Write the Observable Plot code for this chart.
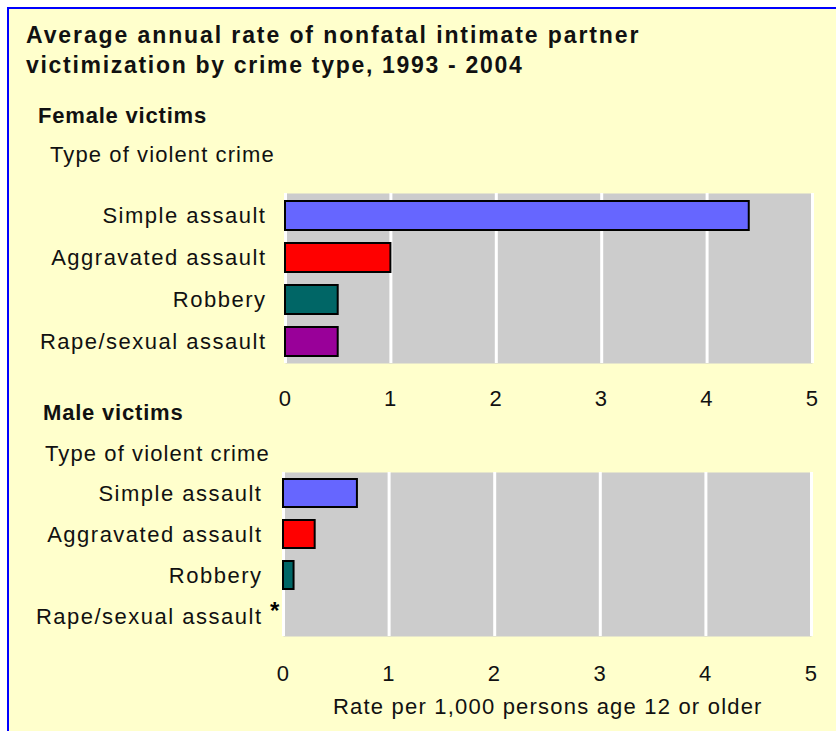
<!DOCTYPE html>
<html><head><meta charset="utf-8">
<script src="https://cdn.jsdelivr.net/npm/d3@7"></script>
<script src="https://cdn.jsdelivr.net/npm/@observablehq/plot@0.6"></script>
<style>
html,body{margin:0;padding:0;background:#fff;}
#page{position:relative;width:836px;height:731px;overflow:hidden;background:#fff;font-family:"Liberation Sans",Arial,sans-serif;}
#box{position:absolute;left:7px;top:7px;width:860px;height:760px;background:#FFFFCC;border-left:2px solid #0000FF;border-top:2px solid #0000FF;}
.t{position:absolute;white-space:nowrap;color:#111;}
#page svg{position:absolute;left:0;top:0;}
</style></head><body><div id="page"><div id="box"></div></div>
<script>
const titleLines = ["Average annual rate of nonfatal intimate partner", "victimization by crime type, 1993 - 2004"];
const panelTitles = ["Female victims", "Male victims"];
const axisTitle = "Type of violent crime";
const xLabel = "Rate per 1,000 persons age 12 or older";
const categories = ["Simple assault", "Aggravated assault", "Robbery", "Rape/sexual assault"];
const femaleRates = [4.4, 1.0, 0.5, 0.5];
const maleRates = [0.7, 0.3, 0.1, null];
const maleNotes = ["", "", "", "*"];
const barColors = ["#6666FF", "#FF0000", "#006666", "#990099"];
const xTicks = [0, 1, 2, 3, 4, 5];

const page = document.getElementById("page");
const FONT = '"Liberation Sans", Arial, sans-serif';

function addText(str, x, baseline, size, weight, ls) {
  const d = document.createElement("div");
  d.className = "t";
  d.textContent = str;
  const lh = size * 1.2;
  d.style.fontSize = size + "px";
  d.style.lineHeight = lh + "px";
  d.style.fontWeight = weight;
  d.style.letterSpacing = ls + "px";
  d.style.left = x + "px";
  d.style.top = (baseline - (lh - 1.117 * size) / 2 - 0.905 * size) + "px";
  page.appendChild(d);
}

function panel(rates, notes, opts) {
  const rows = categories.map((c, i) => ({category: c, value: rates[i], color: barColors[i], note: notes ? notes[i] : ""}));
  return Plot.plot({
    width: 836,
    height: opts.height,
    marginLeft: opts.left,
    marginRight: opts.right,
    marginTop: opts.top,
    marginBottom: opts.bottom,
    style: `background: transparent; font-family: ${FONT}; font-size: 22px; letter-spacing: 1.5px; color: #111;`,
    x: {domain: [0, 5], ticks: xTicks, tickFormat: d => String(d), tickSize: 0, tickPadding: opts.xPad, label: null},
    y: {domain: categories, paddingInner: 0.32, paddingOuter: 0.16, tickSize: 0, tickPadding: opts.yPad, label: null},
    color: {type: "identity"},
    marks: [
      Plot.frame({fill: "#CCCCCC", stroke: "none"}),
      Plot.gridX(xTicks, {stroke: "white", strokeOpacity: 1, strokeWidth: 3}),
      Plot.barX(rows.filter(d => d.value != null), {x: "value", y: "category", fill: "color", stroke: "#000", strokeWidth: 2}),
      Plot.text(rows.filter(d => d.note), {x: 0, y: "category", text: "note", dx: -8, dy: -5, fontSize: 24, fontWeight: "bold", fill: "#000"})
    ]
  });
}

const female = panel(femaleRates, null, {height: 420, left: 285, right: 24, top: 193, bottom: 57, xPad: 27, yPad: 19});
const male = panel(maleRates, maleNotes, {height: 731, left: 283, right: 25, top: 472, bottom: 95, xPad: 29, yPad: 21});
page.appendChild(female);
page.appendChild(male);

addText(titleLines[0], 26, 43.5, 23, "bold", 1.9);
addText(titleLines[1], 26, 73.5, 23, "bold", 1.7);
addText(panelTitles[0], 38, 124, 22, "bold", 0.8);
addText(axisTitle, 50, 162.7, 22, "normal", 1.1);
addText(panelTitles[1], 43, 421, 22, "bold", 0.8);
addText(axisTitle, 45, 462.3, 22, "normal", 1.1);
addText(xLabel, 333, 715, 22, "normal", 1.2);
</script>
</body></html>
